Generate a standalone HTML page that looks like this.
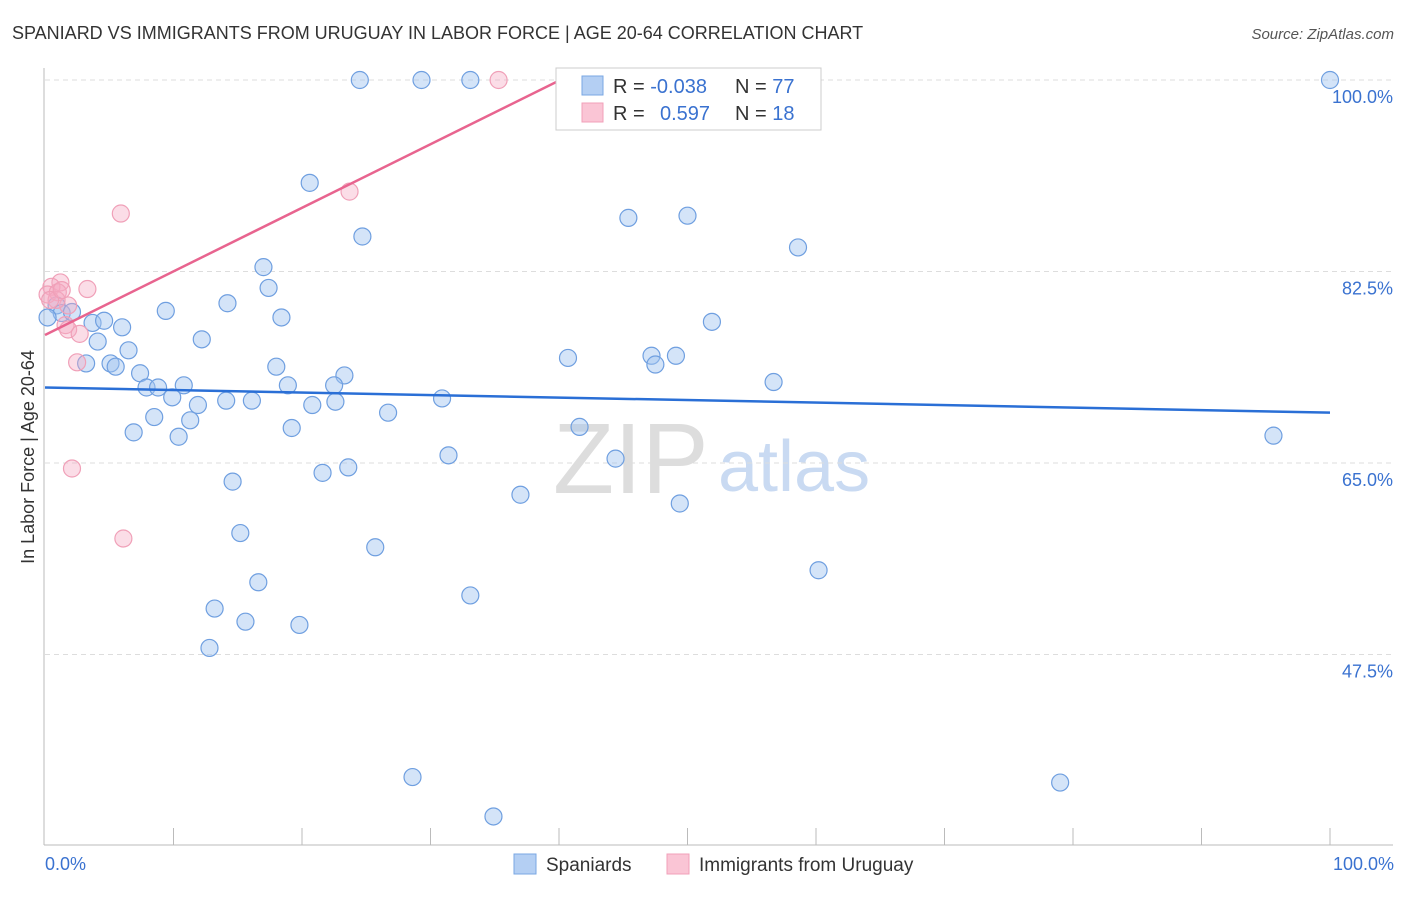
<!DOCTYPE html>
<html><head><meta charset="utf-8"><style>
body{margin:0;background:#fff;font-family:"Liberation Sans",sans-serif;}
svg text{font-family:"Liberation Sans",sans-serif;}
</style></head><body>
<svg width="1406" height="892" xmlns="http://www.w3.org/2000/svg">
<text x="12" y="39" font-size="18" fill="#333">SPANIARD VS IMMIGRANTS FROM URUGUAY IN LABOR FORCE | AGE 20-64 CORRELATION CHART</text>
<text x="1394" y="39" font-size="15" fill="#555" font-style="italic" text-anchor="end">Source: ZipAtlas.com</text>
<g>
<text x="553" y="493" font-size="100" fill="#ddd" font-family="Liberation Serif, serif">ZIP</text>
<text x="718" y="491" font-size="72" fill="#c9daf2">atlas</text>
</g>
<g id="grid"></g>
<g id="axes"></g>
<g id="pts"></g>
<g id="lines"></g>
<g>
<rect x="556" y="68" width="265" height="62" fill="#fff" stroke="#ccc"/>
<rect x="582" y="76" width="21" height="19" fill="#b4cff3" stroke="#7aa7e3"/>
<rect x="582" y="103" width="21" height="19" fill="#fac5d5" stroke="#f1a0b9"/>
<text x="613" y="93" font-size="20" fill="#333">R = <tspan fill="#3a72d0">-0.038</tspan></text>
<text x="735" y="93" font-size="20" fill="#333">N = <tspan fill="#3a72d0">77</tspan></text>
<text x="613" y="120" font-size="20" fill="#333">R = <tspan fill="#3a72d0" x="660">0.597</tspan></text>
<text x="735" y="120" font-size="20" fill="#333">N = <tspan fill="#3a72d0">18</tspan></text>
</g>
<text transform="translate(34,457) rotate(-90)" font-size="18" fill="#333" text-anchor="middle">In Labor Force | Age 20-64</text>
<text x="45" y="870" font-size="18" fill="#3a72d0">0.0%</text>
<text x="1394" y="870" font-size="18" fill="#3a72d0" text-anchor="end">100.0%</text>
<g>
<rect x="514" y="854" width="22" height="20" fill="#b4cff3" stroke="#7aa7e3"/>
<text x="546" y="871" font-size="19" fill="#333">Spaniards</text>
<rect x="667" y="854" width="22" height="20" fill="#fac5d5" stroke="#f1a0b9"/>
<text x="699" y="871" font-size="19" fill="#333">Immigrants from Uruguay</text>
</g>
</svg>
<script>
const yTicks=[100,82.5,65,47.5];
const yTickLabels=["100.0%","82.5%","65.0%","47.5%"];
const blueX=[24.5,29.3,33.1,100,20.6,24.7,45.4,50.0,58.6,17.0,17.4,14.2,9.4,18.4,3.7,4.6,6.0,12.2,4.1,6.5,0.9,1.3,2.1,0.2,3.2,5.1,5.5,40.7,47.2,47.5,49.1,51.9,18.0,7.4,7.9,8.8,10.8,9.9,18.9,23.3,22.5,14.1,11.9,16.1,20.8,22.6,30.9,26.7,8.5,11.3,6.9,10.4,19.2,41.6,56.7,95.6,31.4,44.4,23.6,21.6,14.6,37.0,49.4,15.2,25.7,60.2,16.6,33.1,13.2,15.6,19.8,12.8,28.6,79.0,34.9];
const blueY=[100,100,100,100,90.6,85.7,87.4,87.6,84.7,82.9,81.0,79.6,78.9,78.3,77.8,78.0,77.4,76.3,76.1,75.3,79.4,78.7,78.8,78.3,74.1,74.1,73.8,74.6,74.8,74.0,74.8,77.9,73.8,73.2,71.9,71.9,72.1,71.0,72.1,73.0,72.1,70.7,70.3,70.7,70.3,70.6,70.9,69.6,69.2,68.9,67.8,67.4,68.2,68.3,72.4,67.5,65.7,65.4,64.6,64.1,63.3,62.1,61.3,58.6,57.3,55.2,54.1,52.9,51.7,50.5,50.2,48.1,36.3,35.8,32.7];
const pinkX=[35.3,23.7,5.9,1.2,0.5,3.3,0.2,1.0,1.8,0.9,1.6,1.8,2.7,2.5,2.1,6.1,0.4,1.3];
const pinkY=[100,89.8,87.8,81.5,81.1,80.9,80.4,80.6,79.4,79.9,77.6,77.2,76.8,74.2,64.5,58.1,79.9,80.8];
const blueTrend=[71.9,69.6];
const pinkTrend=[76.7,100];
const pinkTrendEndX=40.1;
const NS="http://www.w3.org/2000/svg";
const sx=v=>45+v*12.85, sy=v=>80+(100-v)*10.943;
function mk(t,a,p){const e=document.createElementNS(NS,t);for(const k in a)e.setAttribute(k,a[k]);p.appendChild(e);return e;}
const grid=document.getElementById('grid'),axes=document.getElementById('axes'),pts=document.getElementById('pts'),lines=document.getElementById('lines');
yTicks.forEach((t,i)=>{
const l=mk('line',{x1:45,x2:1393,y1:sy(t),y2:sy(t),stroke:'#ddd','stroke-dasharray':'5,4'},grid);


const tx=mk('text',{x:1393,y:sy(t)+23,'font-size':18,fill:'#3a72d0','text-anchor':'end'},grid);
tx.textContent=yTickLabels[i];


});
mk('line',{x1:44,x2:44,y1:68,y2:845,stroke:'#bbb'},axes);
mk('line',{x1:44,x2:1393,y1:845,y2:845,stroke:'#bbb'},axes);
for(let i=1;i<=10;i++){const t=mk('line',{x1:sx(i*10),x2:sx(i*10),y1:828,y2:845,stroke:'#bbb'},axes);

}
blueX.forEach((x,i)=>{const c=mk('circle',{cx:sx(x),cy:sy(blueY[i]),r:8.5,fill:'rgba(160,195,240,0.45)',stroke:'#6f9fe0','stroke-width':1.2},pts);

});
pinkX.forEach((x,i)=>{const c=mk('circle',{cx:sx(x),cy:sy(pinkY[i]),r:8.5,fill:'rgba(245,170,195,0.4)',stroke:'#f0a0b8','stroke-width':1.2},pts);

});
const bl=mk('line',{x1:sx(0),y1:sy(blueTrend[0]),x2:sx(100),y2:sy(blueTrend[1]),stroke:'#2a6fd6','stroke-width':2.5},lines);


const pl=mk('line',{x1:sx(0),y1:sy(pinkTrend[0]),x2:sx(pinkTrendEndX),y2:sy(pinkTrend[1]),stroke:'#e8648f','stroke-width':2.5},lines);


</script>
</body></html>
